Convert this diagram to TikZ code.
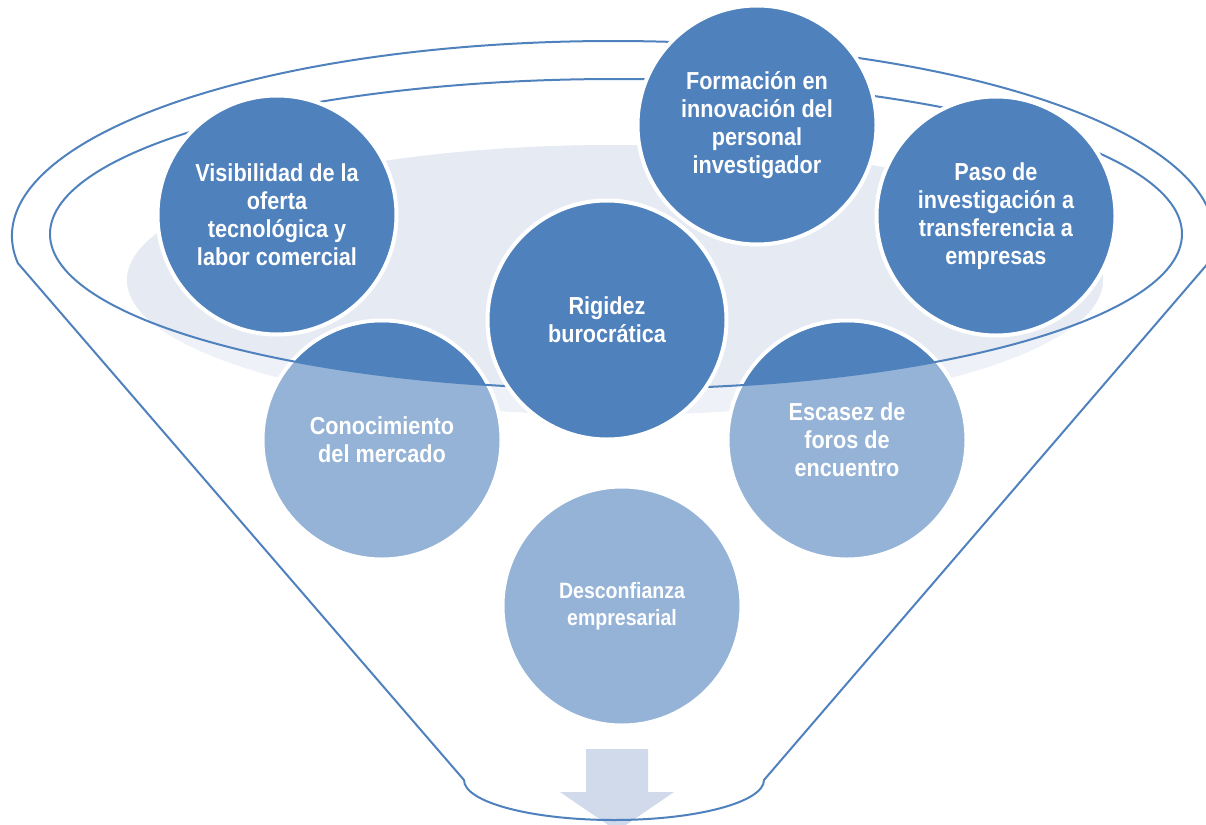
\documentclass[tikz,border=0pt]{standalone}
\usepackage{fontspec}
\setmainfont{Liberation Sans}[FakeStretch=0.88]
\definecolor{dk}{HTML}{4F81BD}
\definecolor{lt}{HTML}{95B3D7}
\definecolor{gy}{HTML}{E5EAF3}
\definecolor{gyl}{HTML}{EEF2F8}
\definecolor{arr}{HTML}{D0DAEA}
\begin{document}
\begin{tikzpicture}[x=0.5pt,y=0.5pt,
  bub/.style={circle,draw=white,line width=2pt,minimum size=119.5pt,inner sep=0pt,align=center,text=white,font=\bfseries\fontsize{12.3}{14}\selectfont},
  topbub/.style={bub,fill=dk},
  lowbub/.style={bub,fill=lt},
  fun/.style={draw=dk,line width=1pt,line join=round}]
\useasboundingbox (0,0) rectangle (1206,-825);
% shadow disc
\fill[gyl] (615,-280) ellipse [x radius=244pt,y radius=67.5pt];
\begin{scope}
  \clip (616,-234) ellipse [x radius=283pt,y radius=77.5pt];
  \fill[gy] (615,-280) ellipse [x radius=244pt,y radius=67.5pt];
\end{scope}
% lower bubbles
\node[lowbub] (con) at (382,-440) {Conocimiento\\del mercado};
\node[lowbub] (esc) at (847,-440) {Escasez de\\foros de\\encuentro};
\node[lowbub,font=\bfseries\fontsize{11.1}{13.5}\selectfont] (desc) at (622,-606) {Desconfianza\\empresarial};
\begin{scope}
  \clip (616,-234) ellipse [x radius=283pt,y radius=77.5pt];
  \fill[dk] (con.center) circle [radius=58.75pt];
  \fill[dk] (esc.center) circle [radius=58.75pt];
\end{scope}
% arrow
\fill[arr] (586,-749) -- (648,-749) -- (648,-792) -- (674,-792) -- (617,-831) -- (560,-792) -- (586,-792) -- cycle;
% funnel
\draw[fun] (616,-234) ellipse [x radius=283pt,y radius=77.5pt];
\draw[fun] (613,-236) ++(188:300.5pt and 97.5pt)
  arc [start angle=188,end angle=-8,x radius=300.5pt,y radius=97.5pt]
  -- (764,-780)
  arc [start angle=0,end angle=-180,x radius=75pt,y radius=20pt]
  -- cycle;
% top bubbles
\node[topbub] (vis) at (277,-215) {Visibilidad de la\\oferta\\tecnológica y\\labor comercial};
\node[topbub] (form) at (757,-125) {Formación en\\innovación del\\personal\\investigador};
\node[topbub] (paso) at (996,-216) {Paso de\\investigación a\\transferencia a\\empresas};
\node[topbub] (rig) at (607,-320) {Rigidez\\burocrática};
\end{tikzpicture}
\end{document}
